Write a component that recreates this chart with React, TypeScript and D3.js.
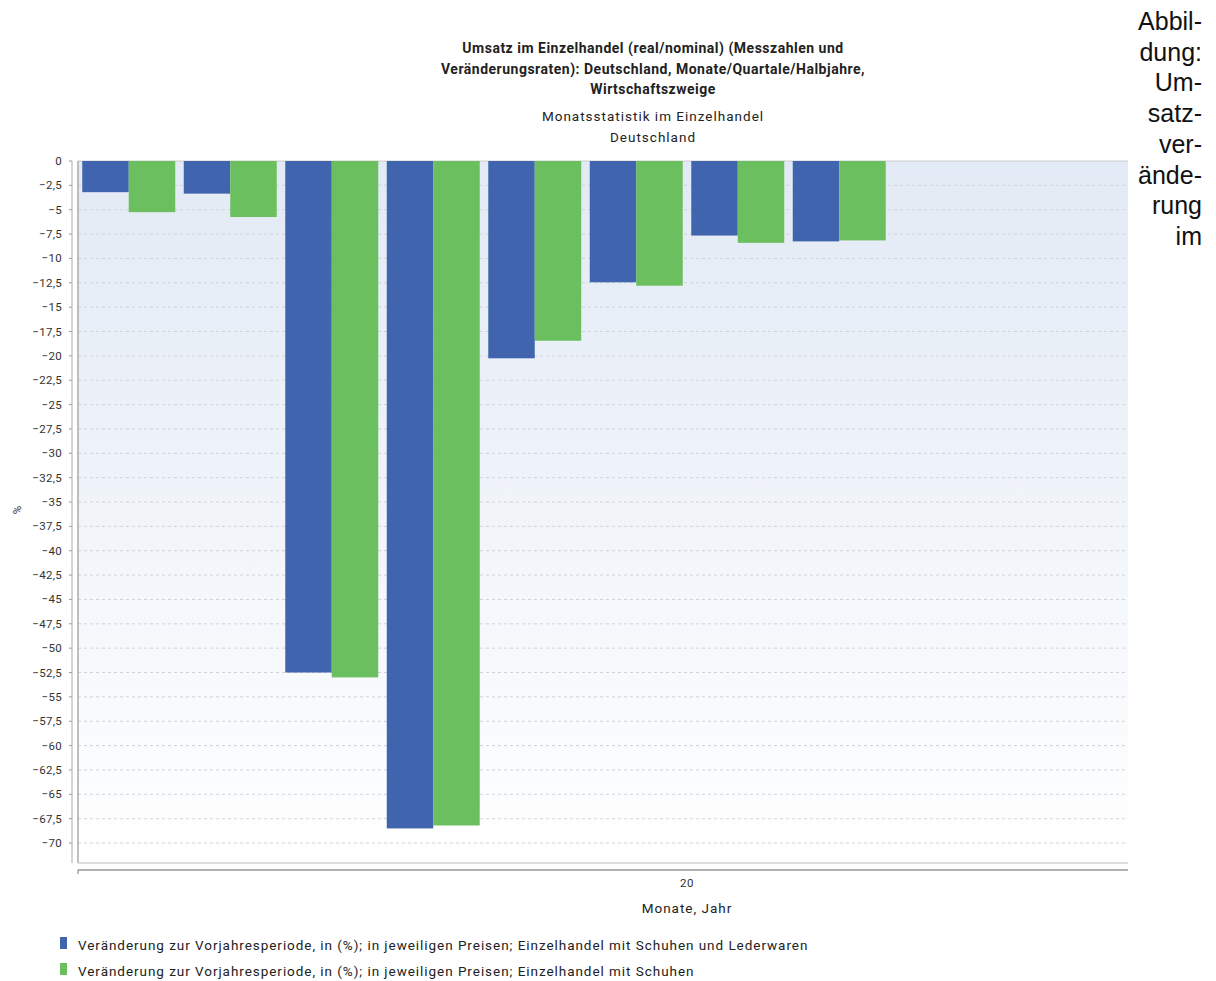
import React from "react";
import * as d3 from "d3";

const months = ["M1", "M2", "M3", "M4", "M5", "M6", "M7", "M8"];
const schuheLeder = [-3.2, -3.35, -52.5, -68.5, -20.25, -12.45, -7.65, -8.25];
const schuhe = [-5.25, -5.75, -53.0, -68.2, -18.45, -12.8, -8.4, -8.15];
const seriesNames = [
  "Veränderung zur Vorjahresperiode, in (%); in jeweiligen Preisen; Einzelhandel mit Schuhen und Lederwaren",
  "Veränderung zur Vorjahresperiode, in (%); in jeweiligen Preisen; Einzelhandel mit Schuhen",
];
const colors = ["#4065ae", "#6cbf5f"];
const titleLines = [
  "Umsatz im Einzelhandel (real/nominal) (Messzahlen und",
  "Veränderungsraten): Deutschland, Monate/Quartale/Halbjahre,",
  "Wirtschaftszweige",
];
const subtitleLines = ["Monatsstatistik im Einzelhandel", "Deutschland"];
const xTickLabel = "20";
const sideText = ["Abbil-", "dung:", "Um-", "satz-", "ver-", "ände-", "rung", "im"];

const plot = { left: 78, right: 1128, top: 161, bottom: 863 };

function App() {
  const y = d3.scaleLinear().domain([0, -72.05]).range([plot.top, plot.bottom]);
  const x0 = d3.scaleBand().domain(months).range([78, 890]).paddingInner(0.084).paddingOuter(0.042);
  const x1 = d3.scaleBand().domain(["0", "1"]).range([0, x0.bandwidth()]);
  const yTicks = d3.range(0, -70.01, -2.5);
  const fmt = (v: number) => d3.format("~g")(v).replace(".", ",");
  const series = [schuheLeder, schuhe];
  const font = "Roboto, 'Noto Sans', sans-serif";

  return (
    <svg
      width={1216}
      height={981}
      style={{ position: "absolute", left: 0, top: 0, background: "#fff" }}
    >
      <defs>
        <linearGradient id="bg" x1="0" y1="0" x2="0" y2="1">
          <stop offset="0" stopColor="#e2eaf5" />
          <stop offset="1" stopColor="#ffffff" />
        </linearGradient>
      </defs>

      {titleLines.map((t, i) => (
        <text key={t} x={653} y={53 + i * 20.5} textAnchor="middle" fontFamily={font}
          fontSize={14} fontWeight="bold" fill="#222" letterSpacing={0.5}>{t}</text>
      ))}
      {subtitleLines.map((t, i) => (
        <text key={t} x={653} y={121 + i * 21} textAnchor="middle" fontFamily={font}
          fontSize={13.5} fill="#222" letterSpacing={1}>{t}</text>
      ))}

      <rect x={plot.left} y={plot.top} width={plot.right - plot.left}
        height={plot.bottom - plot.top} fill="url(#bg)" />
      <line x1={plot.left} x2={plot.right} y1={plot.top} y2={plot.top} stroke="#ccc" />

      {yTicks.map((t) => (
        <g key={t}>
          {t !== 0 && (
            <line x1={plot.left} x2={plot.right} y1={y(t)} y2={y(t)} stroke="#cfd3d8"
              strokeDasharray="3,3" />
          )}
          <line x1={69} x2={72} y1={y(t)} y2={y(t)} stroke="#999" />
          <text x={62} y={y(t)} dy="0.35em" textAnchor="end" fontFamily={font}
            fontSize={11.5} fill="#333" letterSpacing={0.3}>{fmt(t)}</text>
        </g>
      ))}

      {months.map((m, i) => (
        <g key={m} transform={`translate(${x0(m)},0)`}>
          {series.map((s, j) => (
            <rect key={j} x={x1(String(j))} y={y(0)} width={x1.bandwidth()}
              height={y(s[i]) - y(0)} fill={colors[j]} />
          ))}
        </g>
      ))}

      <line x1={72} x2={72} y1={plot.top} y2={plot.bottom} stroke="#aaa" />
      <line x1={plot.left} x2={plot.left} y1={plot.top} y2={plot.bottom} stroke="#aaa" strokeWidth={1.5} />
      <line x1={plot.left} x2={plot.right} y1={plot.bottom} y2={plot.bottom} stroke="#bbb" />
      <line x1={plot.left} x2={plot.right} y1={870} y2={870} stroke="#999" strokeWidth={1.5} />
      <line x1={plot.left} x2={plot.left} y1={870} y2={874} stroke="#777" />

      <text x={687} y={887} textAnchor="middle" fontFamily={font} fontSize={11.5} fill="#333" letterSpacing={0.5}>{xTickLabel}</text>
      <text x={687} y={913} textAnchor="middle" fontFamily={font} fontSize={13.5} fill="#222" letterSpacing={1}>Monate, Jahr</text>
      <text transform="translate(21,510) rotate(-90)" textAnchor="middle" fontFamily={font}
        fontSize={11.5} fill="#333">%</text>

      {seriesNames.map((n, i) => (
        <g key={n}>
          <rect x={60} y={937 + i * 26} width={7} height={12} fill={colors[i]} />
          <text x={78} y={950 + i * 26} fontFamily={font} fontSize={13.5} fill="#222"
            letterSpacing={0.95}>{n}</text>
        </g>
      ))}

      {sideText.map((t, i) => (
        <text key={t} x={1202} y={30 + i * 30.7} textAnchor="end"
          fontFamily="'Liberation Sans', Arial, sans-serif" fontSize={25} fill="#111">{t}</text>
      ))}
    </svg>
  );
}

export default App;
